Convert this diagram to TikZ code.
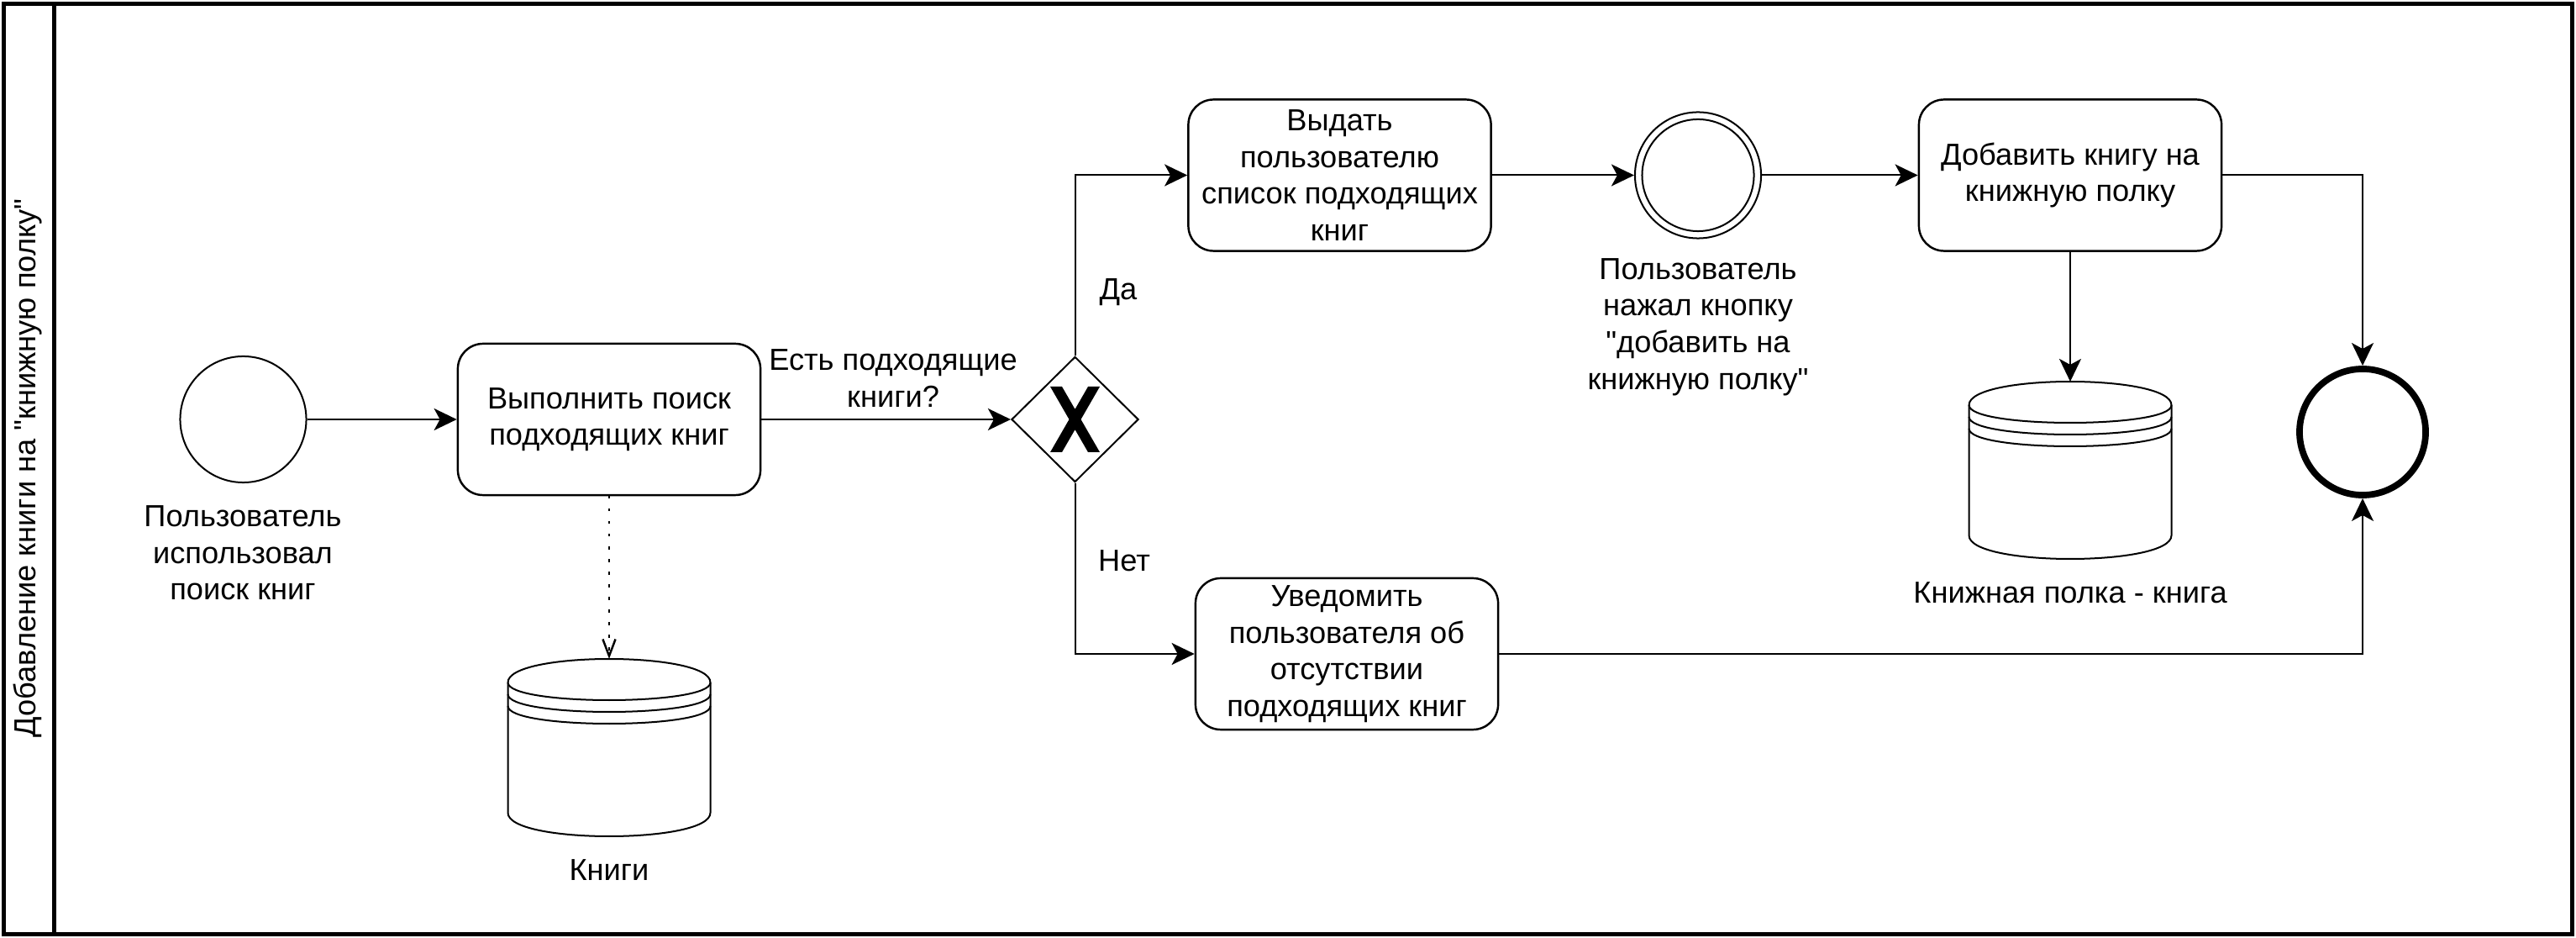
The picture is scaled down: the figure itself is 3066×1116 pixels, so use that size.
\documentclass[tikz,border=0pt]{standalone}
\usepackage{fontspec}
\setmainfont{Liberation Sans}
\usetikzlibrary{arrows.meta,shapes.geometric}
\newcommand\dstore[4]{%
  \draw[line width=0.57pt, fill=white] (#1,{#2+28}) .. controls (#1,{#2-9.33}) and ({#1+#3},{#2-9.33}) .. ({#1+#3},{#2+28}) -- ({#1+#3},{#2+#4-28}) .. controls ({#1+#3},{#2+#4+9.33}) and (#1,{#2+#4+9.33}) .. (#1,{#2+#4-28}) -- cycle;
  \foreach \k in {0,14,28} {\draw[line width=0.57pt] (#1,{#2+28+\k}) .. controls (#1,{#2+56+\k}) and ({#1+#3},{#2+56+\k}) .. ({#1+#3},{#2+28+\k});}
}
\begin{document}
\begin{tikzpicture}[x=0.01cm,y=-0.01cm,
  every node/.style={font=\fontsize{10.3pt}{12.4pt}\selectfont, align=center, inner sep=0pt},
  task/.style={draw, rounded corners=0.3cm, line width=0.7pt, minimum width=3.6cm, minimum height=1.8cm},
  evt/.style={draw, circle, line width=0.57pt, minimum size=1.5cm},
  endevt/.style={draw, circle, line width=2.2pt, minimum size=1.5cm},
  gate/.style={draw, diamond, line width=0.57pt, minimum width=1.51cm, minimum height=1.49cm},
  flow/.style={line width=0.57pt, -{Stealth[length=7.7pt,width=7.4pt,inset=2pt]}},
  assoc/.style={line width=0.7pt, dash pattern=on 0.9pt off 3.37pt, -{Straight Barb[length=5.7pt,width=4.3pt]}},
]
\useasboundingbox (0,0) rectangle (3066,1116);
% pool
\draw[line width=1.42pt] (4.5,4.5) rectangle (3061.5,1111.5);
\draw[line width=1.42pt] (64.5,4.5) -- (64.5,1111.5);
\node[rotate=90] (title) at (33,557) {Добавление книги на \textquotedbl книжную полку\textquotedbl};

% nodes
\node[evt] (start) at (289.5,499) {};
\node[task] (t1) at (725,499) {Выполнить поиск\\подходящих книг};
\node[gate] (gw) at (1279.5,499) {};
\fill (1250,460) -- (1264,460) -- (1279.5,486.9) -- (1295,460) -- (1309,460) -- (1286.5,499) -- (1309,538) -- (1295,538) -- (1279.5,511.1) -- (1264,538) -- (1250,538) -- (1272.5,499) -- cycle;
\node[task] (t2) at (1594.5,208.5) {Выдать\\пользователю\\список подходящих\\книг};
\node[task] (t3) at (1603,778) {Уведомить\\пользователя об\\отсутствии\\подходящих книг};
\node[evt] (ev2) at (2021,208.5) {};
\draw[line width=0.57pt] (ev2.center) circle (0.665cm);
\node[task] (t4) at (2464,208.5) {Добавить книгу на\\книжную полку};
\node[endevt] (endev) at (2812,514) {};

% data stores
\dstore{604.5}{784}{241}{211}
\coordinate (ds1top) at (725,784);
\dstore{2343.5}{454}{241}{211}
\coordinate (ds2top) at (2464,454);

% labels
\node (lstart) at (289,658) {Пользователь\\использовал\\поиск книг};
\node (lgw) at (1063,450) {Есть подходящие\\книги?};
\node (lyes) at (1331,348) {Да};
\node (lno) at (1338,667) {Нет};
\node (lev2) at (2021,389) {Пользователь\\нажал кнопку\\\textquotedbl добавить на\\книжную полку\textquotedbl};
\node (lds1) at (725,1035) {Книги};
\node (lds2) at (2464,705) {Книжная полка - книга};

% connectors
\draw[flow] (start) -- (t1);
\draw[flow] (t1) -- (gw);
\draw[flow] (gw.north) |- (t2.west);
\draw[flow] (gw.south) |- (t3.west);
\draw[flow] (t2) -- (ev2);
\draw[flow] (ev2) -- (t4);
\draw[flow] (t4.south) -- (ds2top);
\draw[flow] (t4.east) -| (endev.north);
\draw[flow] (t3.east) -| (endev.south);
\draw[assoc] (t1.south) -- (ds1top);
\end{tikzpicture}
\end{document}
